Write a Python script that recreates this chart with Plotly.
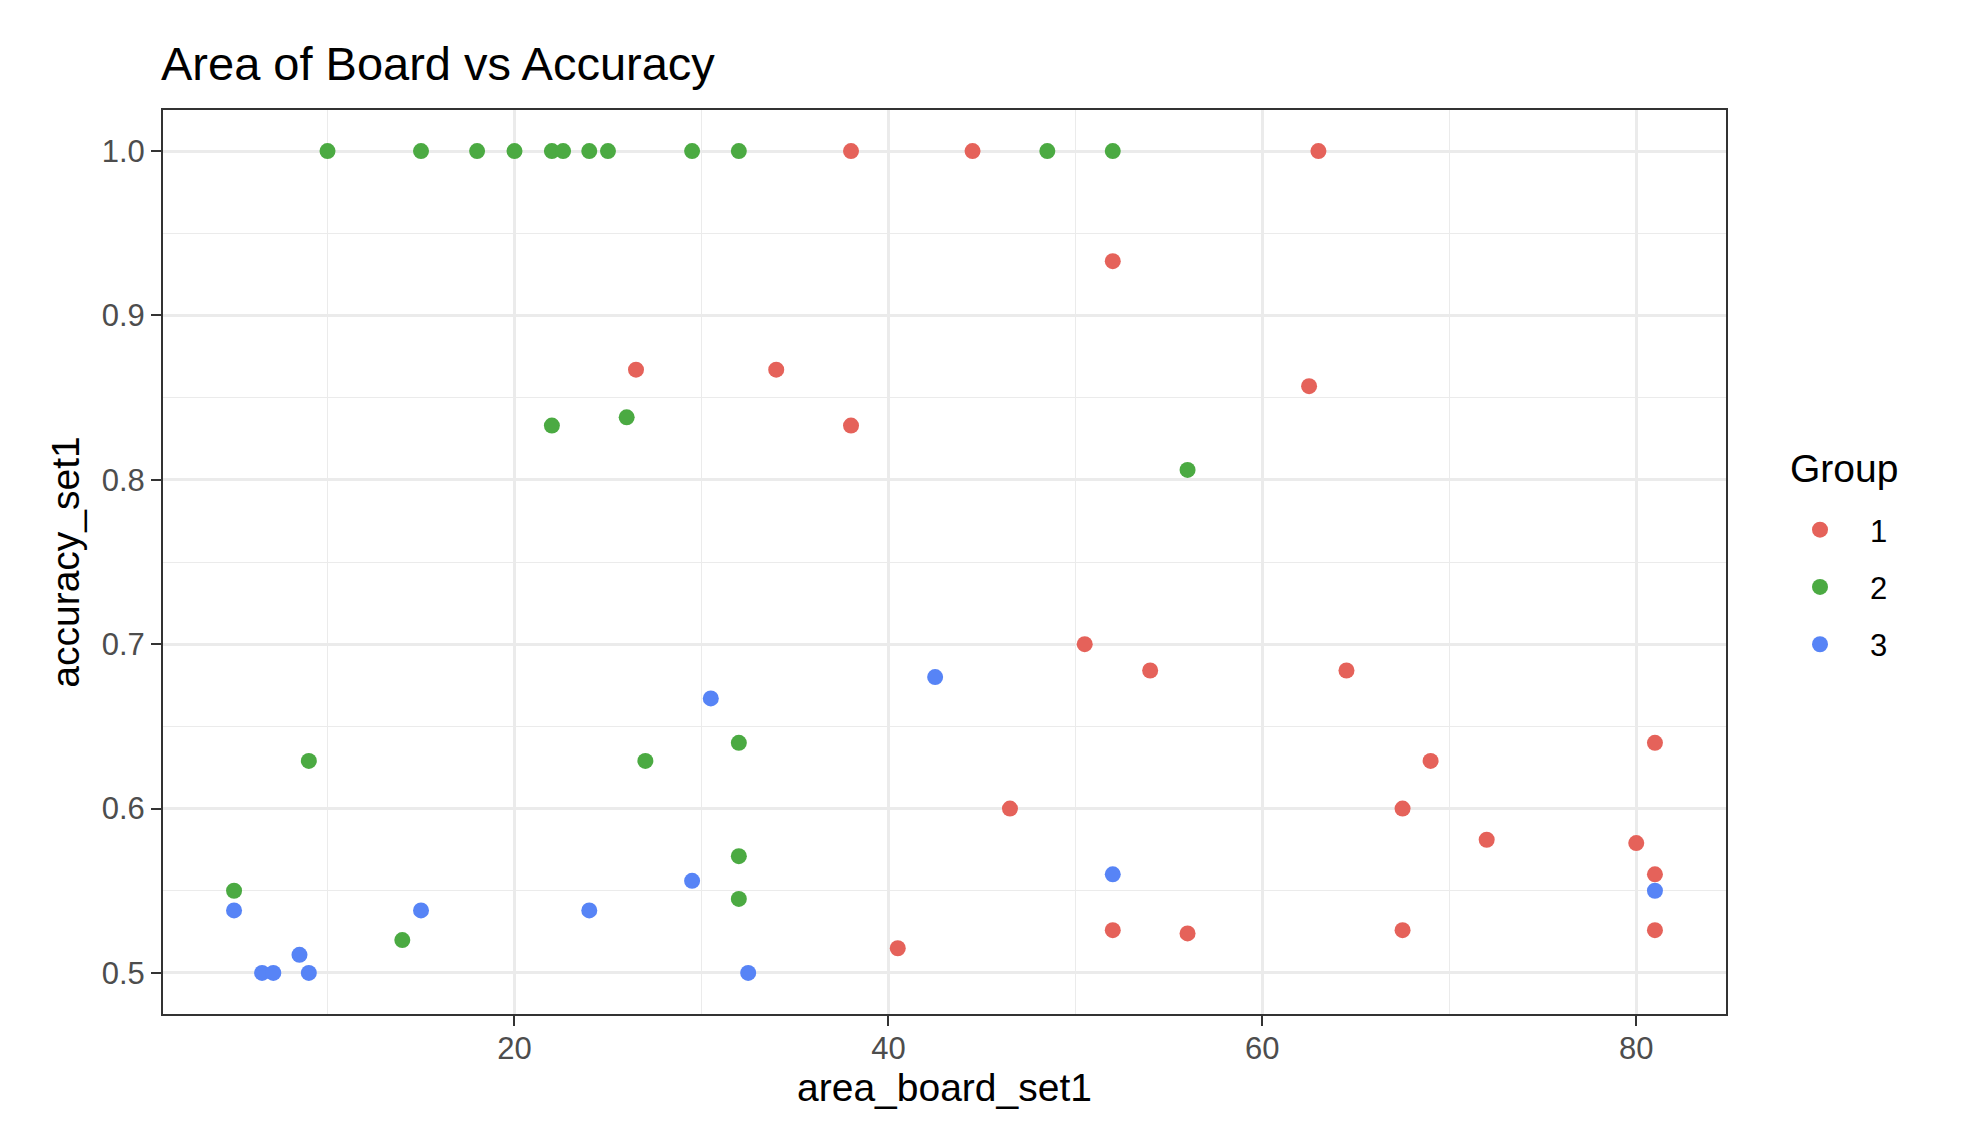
import plotly.graph_objects as go

# Group 1 (red)
g1_x = [38, 44.5, 63, 52, 26.5, 34, 38, 62.5, 50.5, 54, 64.5, 69, 81, 46.5, 67.5, 72, 80, 81, 52, 56, 67.5, 81, 40.5]
g1_y = [1.0, 1.0, 1.0, 0.933, 0.867, 0.867, 0.833, 0.857, 0.700, 0.684, 0.684, 0.629, 0.640, 0.600, 0.600, 0.581, 0.579, 0.560, 0.526, 0.524, 0.526, 0.526, 0.515]

# Group 2 (green)
g2_x = [10, 15, 18, 20, 22, 22.6, 24, 25, 29.5, 32, 48.5, 52, 22, 26, 56, 9, 27, 32, 32, 32, 5, 14]
g2_y = [1.0, 1.0, 1.0, 1.0, 1.0, 1.0, 1.0, 1.0, 1.0, 1.0, 1.0, 1.0, 0.833, 0.838, 0.806, 0.629, 0.629, 0.640, 0.571, 0.545, 0.550, 0.520]

# Group 3 (blue)
g3_x = [5, 6.5, 7.1, 8.5, 9, 15, 24, 29.5, 30.5, 32.5, 42.5, 52, 81]
g3_y = [0.538, 0.5, 0.5, 0.511, 0.5, 0.538, 0.538, 0.556, 0.667, 0.5, 0.680, 0.560, 0.550]

groups = ["1", "2", "3"]
colors = ["#E5625A", "#4BAA42", "#5784F6"]

FONT = "Liberation Sans, Arial, sans-serif"

W, H = 1977, 1122
L, T = 155, 102
PW, PH = 1563, 904
R = W - L - PW
B = H - T - PH


def px_x(px):
    return (px - 8 - L) / PW


def px_y(py):
    return 1 - (py - 8 - T) / PH


fig = go.Figure()
for name, xs, ys, col in zip(groups, [g1_x, g2_x, g3_x], [g1_y, g2_y, g3_y], colors):
    fig.add_trace(go.Scatter(
        x=xs, y=ys, mode="markers", name=name, legendgroup=name,
        marker=dict(color=col, size=16, line=dict(width=0)),
    ))

fig.update_layout(
    width=W, height=H,
    paper_bgcolor="white", plot_bgcolor="white",
    margin=dict(l=L, r=R, t=T, b=B),
    font=dict(family=FONT, color="black"),
    title=dict(text="Area of Board vs Accuracy", x=153 / W, xref="container", xanchor="left",
               y=1 - 56 / H, yref="container", yanchor="middle",
               font=dict(size=47, color="black", family=FONT)),
    showlegend=True,
    legend=dict(
        font=dict(size=31, color="black"),
        x=px_x(1770), xanchor="left", y=px_y(503), yanchor="top",
        itemwidth=90, tracegroupgap=14,
        bgcolor="rgba(0,0,0,0)",
    ),
    annotations=[dict(
        text="Group", xref="paper", yref="paper", x=px_x(1788), y=px_y(468),
        xanchor="left", yanchor="middle", showarrow=False,
        font=dict(size=39, color="black", family=FONT),
    )],
)

fig.update_xaxes(
    range=[1.2, 84.8], tickvals=[20, 40, 60, 80],
    showgrid=True, gridcolor="#EBEBEB", gridwidth=2.5,
    minor=dict(tickvals=[10, 30, 50, 70], showgrid=True, gridcolor="#EBEBEB", gridwidth=1.2),
    showline=True, linecolor="#333333", linewidth=2, mirror=True,
    ticks="outside", ticklen=10, tickwidth=2, tickcolor="#333333",
    tickfont=dict(size=31, color="#4D4D4D"), ticklabelstandoff=-4,
    title=dict(text="area_board_set1", font=dict(size=39, color="black"), standoff=2),
    zeroline=False,
)
fig.update_yaxes(
    range=[0.475, 1.025], tickvals=[0.5, 0.6, 0.7, 0.8, 0.9, 1.0], ticktext=["0.5", "0.6", "0.7", "0.8", "0.9", "1.0"],
    showgrid=True, gridcolor="#EBEBEB", gridwidth=2.5,
    minor=dict(tickvals=[0.55, 0.65, 0.75, 0.85, 0.95], showgrid=True, gridcolor="#EBEBEB", gridwidth=1.2),
    showline=True, linecolor="#333333", linewidth=2, mirror=True,
    ticks="outside", ticklen=10, tickwidth=2, tickcolor="#333333",
    tickfont=dict(size=31, color="#4D4D4D"),
    title=dict(text="accuracy_set1", font=dict(size=39, color="black"), standoff=10),
    zeroline=False,
)

fig.write_html("out.html")
